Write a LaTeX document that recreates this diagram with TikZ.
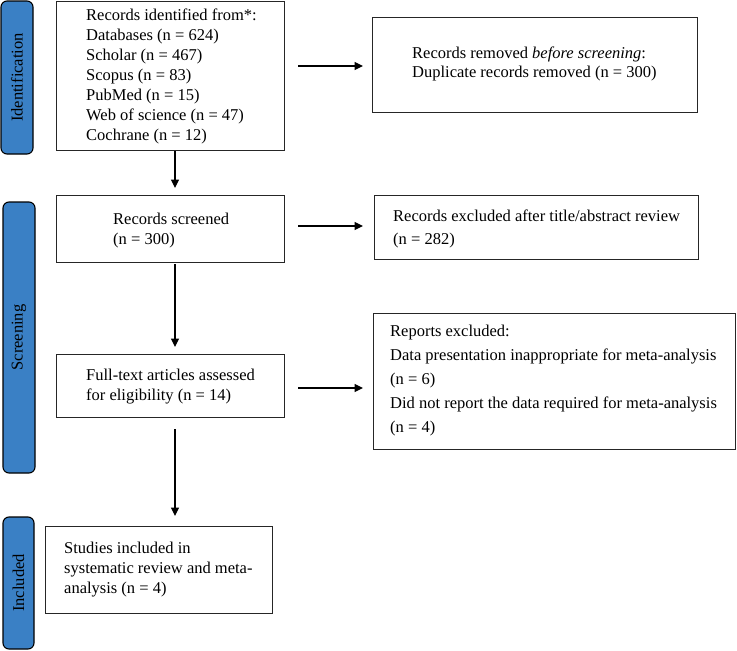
\documentclass[tikz,border=0pt]{standalone}
\usepackage{fontspec}
\setmainfont{Liberation Serif}
\usetikzlibrary{arrows.meta,calc}
\definecolor{barblue}{RGB}{58,128,197}
\begin{document}
\begin{tikzpicture}[x=1pt,y=1pt,
  box/.style={draw=black!85, line width=1.2pt, inner sep=0pt, anchor=north west},
  txt/.style={inner sep=0pt, anchor=west, align=left, font=\fontsize{16.5}{20}\selectfont},
  bar/.style={draw=black, line width=1.1pt, fill=barblue, rounded corners=6pt, rotate=90,
    inner sep=0pt, font=\fontsize{16.5}{20}\selectfont},
  arr/.style={line width=1.2pt, draw=black, -{Triangle[length=8.5pt,width=8pt]}}]
\useasboundingbox (0,0) rectangle (737,-651);

% phase bars
\node[bar, minimum width=153pt, minimum height=32pt] (sid) at (17,-77.5) {Identification};
\node[bar, minimum width=271pt, minimum height=32pt] (sscr) at (19,-337.5) {Screening};
\node[bar, minimum width=132pt, minimum height=31pt] (sinc) at (18.5,-583) {Included};

% left column boxes
\node[box, minimum width=228pt, minimum height=149pt] (b1) at (56,-1) {};
\node[txt] (t1) at ($(b1.west)+(30,0)$) {Records identified from*:\\Databases (n = 624)\\Scholar (n = 467)\\Scopus (n = 83)\\PubMed (n = 15)\\Web of science (n = 47)\\Cochrane (n = 12)};

\node[box, minimum width=228pt, minimum height=67pt] (b2) at (56,-195) {};
\node[txt] (t2) at ($(b2.west)+(57,-1)$) {Records screened\\(n = 300)};

\node[box, minimum width=228pt, minimum height=63pt] (b3) at (56,-354) {};
\node[txt] (t3) at ($(b3.west)+(30,0)$) {Full-text articles assessed\\for eligibility (n = 14)};

\node[box, minimum width=227pt, minimum height=87pt] (b4) at (45,-526) {};
\node[txt] (t4) at ($(b4.west)+(19,1)$) {Studies included in\\systematic review and meta-\\analysis (n = 4)};

% right column boxes
\node[box, minimum width=325pt, minimum height=95pt] (r1) at (372,-17) {};
\node[txt, font=\fontsize{16.5}{19.5}\selectfont] (u1) at ($(r1.west)+(40,1)$) {Records removed \textit{before screening}:\\Duplicate records removed (n = 300)};

\node[box, minimum width=324pt, minimum height=64pt] (r2) at (374,-195) {};
\node[txt, font=\fontsize{16.5}{23}\selectfont] (u2) at ($(r2.west)+(19,-1)$) {Records excluded after title/abstract review\\(n = 282)};

\node[box, minimum width=362pt, minimum height=136pt] (r3) at (373,-313) {};
\node[txt, font=\fontsize{16.5}{24}\selectfont] (u3) at ($(r3.west)+(17,1)$) {Reports excluded:\\Data presentation inappropriate for meta-analysis\\(n = 6)\\Did not report the data required for meta-analysis\\(n = 4)};

% connectors
\coordinate (ax) at (175,0);
\draw[arr, shorten >=7pt] (b1.south -| ax) -- (b2.north -| ax);
\draw[arr, shorten <=1pt, shorten >=7pt] (b2.south -| ax) -- (b3.north -| ax);
\draw[arr, shorten <=11pt, shorten >=10pt] (b3.south -| ax) -- (b4.north -| ax);

\coordinate (h1) at (0,-66);
\coordinate (h2) at (0,-226);
\coordinate (h3) at (0,-388);
\draw[arr, shorten <=13pt, shorten >=9pt] (h1 -| b1.east) -- (h1 -| r1.west);
\draw[arr, shorten <=13pt, shorten >=11pt] (h2 -| b2.east) -- (h2 -| r2.west);
\draw[arr, shorten <=13pt, shorten >=10pt] (h3 -| b3.east) -- (h3 -| r3.west);
\end{tikzpicture}
\end{document}
